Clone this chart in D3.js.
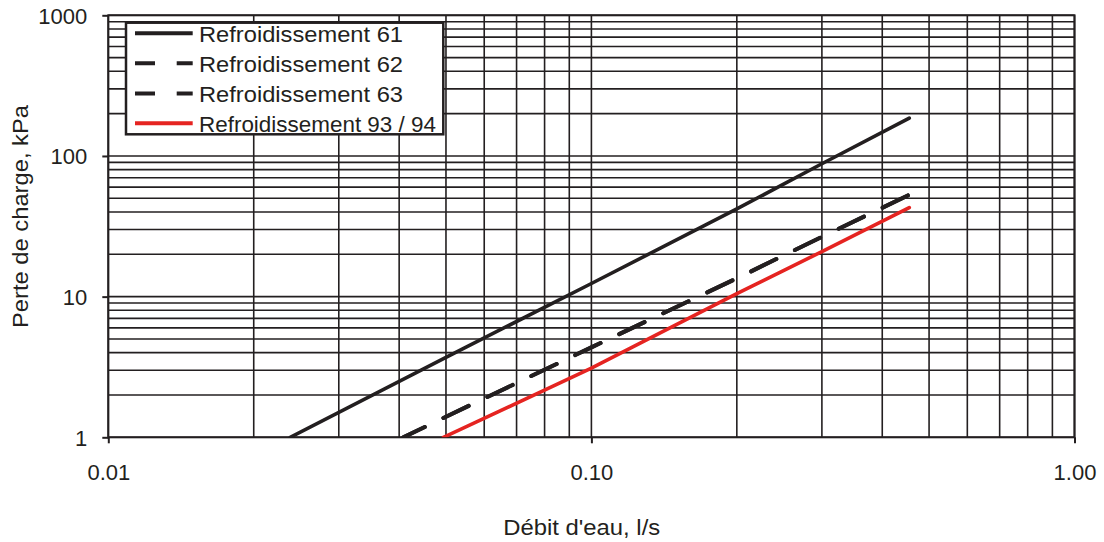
<!DOCTYPE html>
<html>
<head>
<meta charset="utf-8">
<script src="https://cdn.jsdelivr.net/npm/d3@7"></script>
<style>
  body { margin: 0; background: #fff; }
  svg { display: block; }
  text { font-family: "Liberation Sans", Arial, Helvetica, sans-serif; fill: #231f20; }
</style>
</head>
<body>
<svg id="chart" width="1104" height="542"></svg>
<script>
// Water-side pressure drop of the cooling coils (log-log)
const seriesNames = ["Refroidissement 61", "Refroidissement 62", "Refroidissement 63", "Refroidissement 93 / 94"];

// Flow in l/s, pressure drop in kPa
const flow61 = [0.0238, 0.05, 0.1, 0.2, 0.3, 0.455];
const loss61 = [1, 3.7, 12.4, 42, 88, 186];
const flow62 = [0.0408, 0.05, 0.1, 0.2, 0.3, 0.455];
const loss62 = [1, 1.4, 4.36, 13.5, 26.6, 53];
const flow63 = [0.0408, 0.05, 0.1, 0.2, 0.3, 0.455];
const loss63 = [1, 1.4, 4.36, 13.5, 26.6, 53];
const flow93 = [0.0494, 0.1, 0.2, 0.3, 0.455];
const loss93 = [1, 3.1, 10.5, 20.9, 43];

const xTickValues = [0.01, 0.1, 1];
const yTickValues = [1, 10, 100, 1000];
const xTitle = "Débit d'eau, l/s";
const yTitle = "Perte de charge, kPa";

const ink = "#231f20";
const red = "#e52421";

const svg = d3.select("#chart");
const plot = { left: 108.3, right: 1074.5, top: 15.3, bottom: 437.3 };

const x = d3.scaleLog().domain([0.01, 1]).range([plot.left, plot.right]);
const y = d3.scaleLog().domain([1, 1000]).range([plot.bottom, plot.top]);

// grid: every 1..9 multiple in each decade
const grid = svg.append("g");
grid.selectAll("line.v").data(x.ticks()).join("line")
  .attr("x1", d => x(d)).attr("x2", d => x(d))
  .attr("y1", plot.top).attr("y2", plot.bottom)
  .attr("stroke", ink).attr("stroke-width", 1.6);
grid.selectAll("line.h").data(y.ticks()).join("line")
  .attr("x1", plot.left).attr("x2", plot.right)
  .attr("y1", d => y(d)).attr("y2", d => y(d))
  .attr("stroke", ink).attr("stroke-width", 1.6);

// axes (major ticks only)
const xAxis = svg.append("g")
  .attr("transform", `translate(0,${plot.bottom})`)
  .call(d3.axisBottom(x).tickValues(xTickValues).tickSize(6).tickPadding(21).tickFormat(d3.format(".2f")));
const yAxis = svg.append("g")
  .attr("transform", `translate(${plot.left},0)`)
  .call(d3.axisLeft(y).tickValues(yTickValues).tickSize(6).tickPadding(15).tickFormat(d3.format("d")));
[xAxis, yAxis].forEach(a => {
  a.select(".domain").remove();
  a.selectAll(".tick line").attr("stroke", ink).attr("stroke-width", 2);
  a.selectAll(".tick text").attr("fill", ink).style("font-size", "22px")
    .attr("font-family", null);
});
yAxis.selectAll(".tick text").attr("dy", "0.36em");

// frame
svg.append("rect")
  .attr("x", plot.left).attr("y", plot.top)
  .attr("width", plot.right - plot.left).attr("height", plot.bottom - plot.top)
  .attr("fill", "none").attr("stroke", ink).attr("stroke-width", 2);

// curves
svg.append("clipPath").attr("id", "plotClip").append("rect")
  .attr("x", plot.left).attr("y", plot.top)
  .attr("width", plot.right - plot.left).attr("height", plot.bottom - plot.top);

const line = d3.line().x(d => x(d[0])).y(d => y(d[1]));
const series = [
  { name: seriesNames[0], pts: d3.zip(flow61, loss61), color: ink, width: 3.6, dash: null },
  { name: seriesNames[1], pts: d3.zip(flow62, loss62), color: ink, width: 4, dash: "28,20.7" },
  { name: seriesNames[2], pts: d3.zip(flow63, loss63), color: ink, width: 4, dash: "28,20.7" },
  { name: seriesNames[3], pts: d3.zip(flow93, loss93), color: red, width: 3.6, dash: null }
];
const curves = svg.append("g").attr("clip-path", "url(#plotClip)");
series.forEach(s => {
  curves.append("path")
    .attr("d", line(s.pts))
    .attr("fill", "none")
    .attr("stroke", s.color)
    .attr("stroke-width", s.width)
    .attr("stroke-linecap", "round")
    .attr("stroke-dasharray", s.dash)
    .attr("stroke-dashoffset", s.dash ? 4.2 : null);
});

// legend
const legend = svg.append("g");
legend.append("rect")
  .attr("x", 126).attr("y", 22.7).attr("width", 317.3).attr("height", 111.6)
  .attr("fill", "#fff").attr("stroke", ink).attr("stroke-width", 2.5);
const rowY = [33.3, 63.3, 93.6, 123.3];
const textLen = [204, 204, 204, 237];
series.forEach((s, i) => {
  legend.append("line")
    .attr("x1", 135).attr("x2", 192.7)
    .attr("y1", rowY[i]).attr("y2", rowY[i])
    .attr("stroke", s.color).attr("stroke-width", 4)
    .attr("stroke-dasharray", s.dash ? "20,21.7" : null);
  legend.append("text")
    .attr("x", 199).attr("y", rowY[i] + 8.8)
    .attr("textLength", textLen[i]).attr("lengthAdjust", "spacingAndGlyphs")
    .style("font-size", "22.5px")
    .text(s.name);
});

// axis titles
svg.append("text")
  .attr("x", 581.7).attr("y", 534.5)
  .attr("text-anchor", "middle")
  .attr("textLength", 157).attr("lengthAdjust", "spacingAndGlyphs")
  .style("font-size", "22px")
  .text(xTitle);
svg.append("text")
  .attr("transform", "translate(27.5,216.5) rotate(-90)")
  .attr("text-anchor", "middle")
  .attr("textLength", 223).attr("lengthAdjust", "spacingAndGlyphs")
  .style("font-size", "22px")
  .text(yTitle);
</script>
</body>
</html>
